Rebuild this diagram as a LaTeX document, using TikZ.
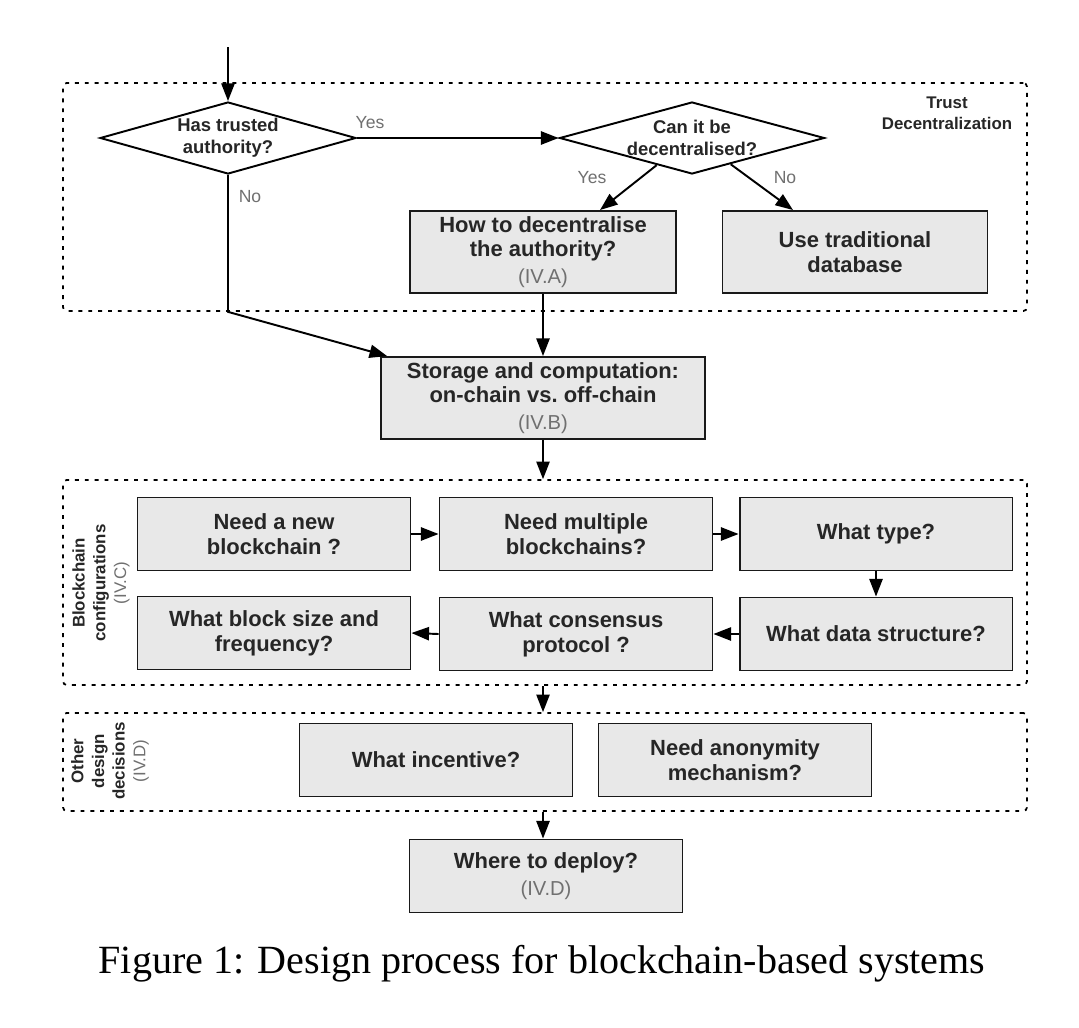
\documentclass[tikz,border=0pt]{standalone}
\usepackage{fontspec}
\setmainfont{Liberation Sans}
\newfontfamily\capfont{Liberation Serif}
\usetikzlibrary{shapes.geometric,arrows.meta,calc}
\definecolor{boxfill}{HTML}{E8E8E8}
\definecolor{boxtext}{HTML}{262626}
\definecolor{reftext}{HTML}{707070}
\tikzset{
  box/.style={draw=black!90,line width=1.1pt,fill=boxfill,text=boxtext,font=\fontsize{12.5}{14.2}\selectfont\bfseries,align=center,inner sep=0pt,minimum width=5.46cm,minimum height=1.46cm},
  ask/.style={diamond,draw,line width=1.1pt,text=boxtext,font=\fontsize{10.5}{12.3}\selectfont\bfseries,align=center,inner xsep=-0.8cm,inner ysep=-0.3cm,minimum width=5.12cm,minimum height=1.44cm},
  group/.style={draw,line width=1pt,dash pattern=on 2.2pt off 3.4pt,rounded corners=2pt},
  grouplabel/.style={text=boxtext,font=\fontsize{9.6}{11.8}\selectfont\bfseries,align=center},
  answer/.style={text=reftext,font=\fontsize{10}{12}\selectfont},
  flow/.style={line width=1.1pt,-{Triangle[length=10pt,width=7.5pt]}}
}
\newcommand{\secref}[1]{\\[1pt]{\fontsize{11.5}{14}\selectfont\mdseries\color{reftext}(#1)}}
\begin{document}
\begin{tikzpicture}[x=0.02cm,y=-0.02cm]
\fill[white] (0,0) rectangle (1079,1028);
\useasboundingbox (0,0) rectangle (1079,1028);
\node[group,minimum width=19.28cm,minimum height=4.56cm] (trust) at (545,197) {};
\node[group,minimum width=19.28cm,minimum height=4.1cm] (conf) at (545,582.5) {};
\node[group,minimum width=19.28cm,minimum height=1.96cm] (other) at (545,762) {};
\node[grouplabel] (trustlabel) at (947,113) {Trust\\Decentralization};
\node[grouplabel,rotate=90] (conflabel) at (101,583) {Blockchain\\configurations\\{\mdseries\color{reftext}(IV.C)}};
\node[grouplabel,rotate=90] (otherlabel) at (110,761) {Other\\design\\decisions\\{\mdseries\color{reftext}(IV.D)}};
\coordinate (start) at (228,47);
\node[ask] (trusted) at (228,138) {Has trusted\\authority?};
\node[ask,minimum width=5.3cm] (decent) at (692,138) {Can it be\\decentralised?};
\node[box,minimum width=5.32cm,minimum height=1.64cm] (how) at (543,252) {How to decentralise\\the authority?\secref{IV.A}};
\node[box,minimum width=5.3cm,minimum height=1.64cm] (db) at (855,252) {Use traditional\\database};
\node[box,minimum width=6.48cm,minimum height=1.64cm] (storage) at (543,398) {Storage and computation:\\on-chain vs.\ off-chain\secref{IV.B}};
\node[box] (new) at (274,534) {Need a new\\blockchain ?};
\node[box] (multi) at (576,534) {Need multiple\\blockchains?};
\node[box] (type) at (876,534) {What type?};
\node[box] (size) at (274,633) {What block size and\\frequency?};
\node[box] (consensus) at (576,634) {What consensus\\protocol ?};
\node[box] (structure) at (876,634) {What data structure?};
\node[box] (incentive) at (436,760) {What incentive?};
\node[box] (anon) at (735,760) {Need anonymity\\mechanism?};
\node[box] (deploy) at (546,876) {Where to deploy?\secref{IV.D}};
\node[answer] (yes1) at (370,123) {Yes};
\node[answer] (no1) at (250,197) {No};
\node[answer] (yes2) at (592,178) {Yes};
\node[answer] (no2) at (785,178) {No};
\coordinate (bend) at (trusted.south |- trust.south);
\draw[flow] (start) -- (trusted.north);
\draw[flow] (trusted.east) -- (decent.west);
\draw[flow] ($(decent.south)!0.265!(decent.west)$) -- ($(how.north)+(57,0)$);
\draw[flow] ($(decent.south)!0.29!(decent.east)$) -- ($(db.north)+(-62,0)$);
\draw[flow] (trusted.south) -- (bend) -- ($(storage.north west)+(7,0)$);
\draw[flow] (how.south) -- (storage.north);
\draw[flow] (storage.south) -- (storage.south |- conf.north);
\draw[flow] (new.east) -- (multi.west);
\draw[flow] (multi.east) -- (type.west);
\draw[flow] (type.south) -- (structure.north);
\draw[flow] (structure.west) -- (consensus.east);
\draw[flow] (consensus.west) -- (size.east);
\draw[flow] (storage.south |- conf.south) -- (storage.south |- other.north);
\draw[flow] (storage.south |- other.south) -- (storage.south |- deploy.north);
\node[font=\capfont\fontsize{22.8}{27}\selectfont,anchor=base] (caption) at (542,973) {Figure 1: Design process for blockchain-based systems};
\end{tikzpicture}
\end{document}
